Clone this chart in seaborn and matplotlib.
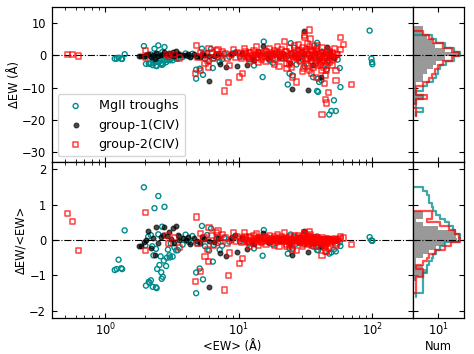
import numpy as np
import matplotlib
matplotlib.use('Agg')
import matplotlib.pyplot as plt
from matplotlib.ticker import NullLocator
import seaborn as sns

# ---- MgII troughs: <EW> (A) and dEW (A)
ew_mg = [1.18, 1.22, 1.26, 1.32, 1.34, 1.40,
         1.95, 2.34, 2.5, 2.67, 2.78, 2.5, 2.0, 2.1, 2.25, 2.15, 2.27, 2.4, 2.63, 2.86,
         3.03, 3.2, 3.4, 2.02, 2.12, 2.2, 2.43, 2.65, 2.7, 2.55, 2.9, 2.3, 2.6, 2.95,
         3.3, 3.05, 3.5, 3.8, 3.6, 2.4, 2.75, 2.45, 3.1, 4.0, 4.2, 2.2,
         4.8, 5.1, 5.4, 4.8, 6.4, 5.3, 4.5, 4.9, 5.8, 6.5, 7.2, 7.5, 6.0, 4.4, 7.8,
         6.2, 6.8, 7.0, 8.5, 9.0, 5.6,
         10.7, 11.8, 13.0, 15.4, 15.1, 23.3, 24.5, 24.0, 25.3, 26.0, 28.0, 25.3, 38.6,
         36.9, 36.0, 39.3, 41.6, 40.0, 38.6, 39.3, 51.6, 53.3, 49.4, 47.6, 57.7, 57.0,
         45.0, 45.5, 12.0, 14.0, 17.0, 19.0, 21.0, 30.0, 33.0, 35.0, 42.0, 44.0, 48.0,
         55.0, 18.0, 27.0, 31.0, 20.0, 10.2, 16.0, 22.5, 29.0, 37.0, 46.5,
         95.5, 98.5, 99.5, 100.0]
dew_mg = [-1.0, -1.0, -0.7, -1.05, -1.1, 0.38,
          2.9, 2.1, 3.1, 1.0, 2.6, 0.4, -0.3, 0.2, -0.4, -2.6, -3.0, -3.2, -2.4, -2.1,
          -1.3, -1.5, -1.0, -2.6, -2.5, -2.5, -3.3, -2.9, -2.8, -1.8, -1.45, -1.0, -1.2, -0.8,
          -0.7, -1.5, -1.0, -0.5, 0.3, -0.6, -1.6, -2.0, -0.3, 0.6, -0.2, 0.3,
          -7.2, -4.1, -6.0, -4.4, -3.9, 2.1, 0.5, -0.5, 0.8, -0.9, -2.0, -1.2, -1.8, -0.3, 0.5,
          2.0, 0.3, -0.6, -0.4, 0.6, -1.0,
          0.2, -0.7, -3.1, 4.3, -6.7, -9.0, 3.8, -5.6, -6.2, 2.4, 1.5, 0.5, 3.9,
          3.1, -6.7, -7.2, -7.7, -8.2, -11.0, -11.3, -13.9, -17.2, -17.2, -18.3, -9.8, -3.9,
          -2.6, -4.3, -1.2, 0.8, -1.5, 0.9, -0.8, -1.2, 0.6, -1.8, 1.2, -0.9, 0.4,
          -1.3, -2.3, -2.8, -3.3, 0.2, -0.4, 0.3, -0.9, 0.7, -0.5, -1.6,
          7.7, -1.0, -2.1, -2.7]

# ---- group-1 (CIV)
ew_g1 = [1.79, 1.86, 1.95, 2.03, 2.08, 2.41, 2.38, 2.78, 3.03, 3.21, 3.4, 3.5, 4.04, 4.28,
         5.09, 5.98, 7.2, 8.06, 9.3, 2.6, 2.9, 3.8, 4.6, 5.5, 6.5, 9.7, 11.6, 8.8, 2.2, 3.1,
         2.3, 2.5, 2.7, 3.3, 3.6, 4.2, 4.9, 5.3, 6.0, 7.0,
         15.3, 30.6, 45.6, 33.0, 25.0, 48.5, 41.6, 10.5, 12.5, 14.0, 16.5, 18.0, 20.0, 22.0,
         26.0, 28.0, 31.0, 34.0, 37.0, 40.0, 43.0, 47.0, 13.0, 24.0, 36.0, 52.0]
dew_g1 = [-0.3, -0.3, -0.1, 0.0, 0.5, 0.9, -1.0, 1.0, 0.7, 1.1, 1.3, 0.5, 0.0, -0.5,
          -0.5, -7.9, -2.6, -3.6, 1.2, 0.2, 0.3, 0.2, 0.3, 0.2, -0.3, -3.4, -3.1, 0.6, -0.5, 0.1,
          0.1, -0.2, 0.4, -0.3, 0.0, 0.4, -0.2, 0.5, -0.1, 0.3,
          2.9, 7.7, 2.6, -10.8, -10.3, 1.0, -6.7, 0.8, -0.5, 0.4, -0.8, 0.3, -0.5, 0.6,
          0.2, -0.8, 0.5, -0.4, 0.9, -1.2, 0.3, -0.6, -1.5, -2.2, -2.9, -0.8]

# ---- group-2 (CIV)
ew_g2 = [0.52, 0.57, 0.63,
         2.0, 2.0, 3.0, 3.6, 2.9, 3.3,
         4.8, 4.75, 5.2, 5.6, 5.8, 5.9, 5.2, 6.0, 4.95, 8.4, 7.8, 8.5, 6.3, 6.8, 7.0, 7.3,
         7.6, 8.0, 8.2, 8.8, 9.2, 9.5, 9.8, 6.5, 7.0, 5.5,
         10.1, 10.7, 22.0, 34.0, 31.0, 31.0, 57.5, 60.5, 57.7, 34.5,
         22.7, 24.0, 25.3, 26.9, 25.0,
         30.4, 32.0, 34.0, 34.9, 37.6, 40.1, 41.6, 42.6, 45.0, 45.5, 46.5, 44.5, 43.9, 47.0,
         44.5, 45.5, 42.0, 53.4, 53.4, 69.5, 54.8,
         29.0, 30.0, 32.0, 34.0, 36.0, 38.0, 28.0,
         10.3, 10.8, 11.2, 11.5, 11.9, 12.3, 12.6, 13.0, 13.3, 13.7, 14.1, 14.5, 14.9, 15.3,
         15.7, 16.1, 16.6, 17.0, 17.5, 18.0, 18.5, 19.0, 19.6, 20.2, 20.8, 21.4, 22.0, 22.6,
         23.3, 24.0, 24.7, 25.5, 26.3, 27.1, 27.9, 28.7, 29.6, 30.5, 31.4, 32.4, 33.4, 34.4,
         35.4, 36.5, 37.6, 38.7, 39.9, 41.1, 42.3, 43.6, 44.9, 46.3, 47.7, 49.1, 50.6, 52.0,
         12.0, 14.0, 16.0, 18.5, 20.0, 23.0, 27.0, 29.0, 33.0, 36.0, 39.0, 41.0, 43.0, 48.0,
         50.0, 35.0, 38.0, 30.0,
         11.0, 13.5, 17.0, 19.5, 21.0, 24.0, 26.0, 32.5, 39.0, 42.0, 46.0, 52.0,
         10.5, 11.0, 11.7, 12.1, 12.9, 13.6, 14.3, 15.0, 15.9, 16.8, 17.8, 18.8, 19.9, 21.0,
         22.3, 23.6, 25.0, 26.6, 28.2, 30.0, 31.8, 33.7, 35.7, 37.9, 40.2, 42.6, 45.2, 47.9,
         50.8, 53.9]
dew_g2 = [0.39, 0.30, -0.18,
          1.55, -0.57, -0.3, -0.8, 0.4, 0.2,
          3.1, -5.6, -4.6, -2.6, -1.5, -3.6, 1.0, 2.1, -0.5, -8.4, -11.0, -3.1, 0.8, 1.5, 0.4, -0.3,
          1.2, 0.6, -0.8, 0.2, 1.8, -0.5, 0.9, -1.0, 1.9, 0.3,
          -6.7, -5.6, 4.4, 7.9, 6.2, 5.5, 5.5, 3.4, 1.8, 5.1,
          -2.6, -2.8, -6.7, -8.2, -3.6,
          -4.1, -2.6, -4.6, -1.0, -2.6, -2.1, -4.6, -1.5, -3.1, -4.6, -1.0, -6.2, -8.7, -11.6,
          -13.7, -14.7, -18.3, -4.6, -7.7, -9.0, 0.3,
          1.5, 2.5, 1.8, 2.8, 1.2, 2.2, 3.5,
          0.5, -0.4, 1.2, 0.2, -0.9, 0.8, -0.2, 1.5, 0.4, -0.6, 1.0, 0.1, -1.2, 0.6,
          -0.3, 1.3, 0.3, -0.8, 0.9, -0.1, 1.6, 0.4, -0.5, 1.0, -1.0, 0.2, -0.4, 1.1,
          0.0, -1.3, 0.7, -0.2, 1.0, -0.6, 0.3, -1.6, 0.8, -0.3, 1.2, -0.9, 0.4, -0.2,
          1.5, -0.7, 0.6, -1.4, 0.2, -0.5, 1.0, -0.2, 0.5, -1.8, 0.3, -0.6, 0.8, -0.4,
          -2.0, -2.3, -1.9, -2.8, -3.5, -4.0, -1.0, -1.9, -3.3, -3.8, -3.0, -2.8, -3.6, -2.2,
          -3.0, -5.5, -6.8, -5.0,
          2.2, 2.6, 2.0, 2.8, 1.9, 2.3, 3.0, 3.6, 3.0, 2.5, 1.8, 2.2,
          -0.8, 0.6, -0.3, 1.0, -1.1, 0.3, 0.8, -0.7, 1.1, -0.2, 0.5, -1.3, 0.7, 0.0,
          1.3, -0.8, 0.3, -0.4, 1.6, 0.9, -1.1, 1.9, 0.1, 1.3, -0.9, 0.6, -0.7, 1.1,
          -1.2, 0.4]

# ---- side histograms (counts per bin)
top_cnt_mg = [1, 2, 1, 1, 2, 1, 2, 3, 6, 8, 10, 12, 22, 50, 95, 50, 20, 8, 5, 0, 0]
top_cnt_g1 = [0, 0, 0, 1, 2, 1, 1, 1, 2, 2, 3, 6, 8, 20, 80, 20, 7, 5, 3, 2, 2]
top_cnt_g2 = [1, 1, 0, 1, 3, 1, 1, 2, 4, 5, 7, 10, 16, 40, 85, 42, 16, 6, 4, 2, 0]

bot_cnt_mg = [1, 2, 2, 2, 2, 2, 3, 3, 4, 5, 6, 8, 12, 20, 85, 90, 55, 45, 30, 20, 12, 8,
              6, 5, 4, 4, 3, 2, 0, 0, 0]
bot_cnt_g1 = [0, 0, 0, 0, 1, 2, 3, 2, 1, 1, 2, 4, 8, 20, 65, 60, 50, 10, 2, 1, 2, 2,
              0, 0, 0, 0, 0, 0, 0, 0, 0]
bot_cnt_g2 = [0, 1, 1, 1, 1, 2, 2, 1, 2, 3, 4, 7, 20, 38, 90, 80, 55, 30, 12, 3, 5, 5,
              0, 0, 0, 0, 0, 0, 0, 0, 0]

top_edges = np.linspace(-18.9, 9.03, 22)
bot_edges = np.linspace(-1.595, 1.815, 32)

rat_mg = np.array(dew_mg) / np.array(ew_mg)
rat_g1 = np.array(dew_g1) / np.array(ew_g1)
rat_g2 = np.array(dew_g2) / np.array(ew_g2)

sns.set_style('ticks')
plt.rcParams['font.family'] = ['DejaVu Sans']
plt.rcParams.update({
    'font.size': 8.3,
    'xtick.direction': 'in', 'ytick.direction': 'in',
    'xtick.top': True, 'ytick.right': True,
    'xtick.major.size': 3.5, 'ytick.major.size': 3.5,
    'xtick.minor.size': 2.0, 'ytick.minor.size': 2.0,
    'xtick.major.pad': 2.8, 'ytick.major.pad': 4.2,
    'xtick.color': 'black', 'ytick.color': 'black',
    'axes.edgecolor': 'black', 'axes.linewidth': 0.9,
    'axes.labelcolor': 'black', 'text.color': 'black',
})

fig = plt.figure(figsize=(4.74, 3.54), dpi=100)
ax1 = fig.add_axes([0.1097, 0.5424, 0.7606, 0.4378])
ax2 = fig.add_axes([0.1097, 0.1017, 0.7606, 0.4407], sharex=ax1)
axh1 = fig.add_axes([0.8703, 0.5424, 0.1092, 0.4378], sharey=ax1)
axh2 = fig.add_axes([0.8703, 0.1017, 0.1092, 0.4407], sharey=ax2)

mg_kw = dict(marker='o', facecolor='none', edgecolor='darkcyan', s=13, linewidth=1.0)
g1_kw = dict(marker='o', color='k', edgecolor='k', alpha=0.7, s=12, linewidth=0.8)
g2_kw = dict(marker='s', facecolor='none', edgecolor='red', alpha=0.75, s=14, linewidth=1.1)

for ax in (ax1, ax2):
    ax.axhline(0, color='k', ls='-.', lw=0.8, zorder=1)

sns.scatterplot(x=ew_mg, y=dew_mg, ax=ax1, label='MgII troughs', zorder=2, **mg_kw)
sns.scatterplot(x=ew_g1, y=dew_g1, ax=ax1, label='group-1(CIV)', zorder=3, **g1_kw)
sns.scatterplot(x=ew_g2, y=dew_g2, ax=ax1, label='group-2(CIV)', zorder=4, **g2_kw)

sns.scatterplot(x=ew_mg, y=rat_mg, ax=ax2, zorder=2, **mg_kw)
sns.scatterplot(x=ew_g1, y=rat_g1, ax=ax2, zorder=3, **g1_kw)
sns.scatterplot(x=ew_g2, y=rat_g2, ax=ax2, zorder=4, **g2_kw)

ax1.legend(loc='lower left', fontsize=9.2, edgecolor='0.8', borderaxespad=0.45)

ax1.set_xscale('log')
ax1.set_xlim(0.4, 200)
ax1.set_yticks([-30, -20, -10, 0, 10])
ax2.set_yticks([-2, -1, 0, 1, 2])
ax1.tick_params(labelbottom=False)
ax1.set_ylabel('ΔEW (Å)', labelpad=1)
ax2.set_ylabel('ΔEW/<EW>', labelpad=1)
ax2.set_xlabel('<EW> (Å)', labelpad=1)
ax1.set_xlabel('')


def side_hist(ax, edges, cnt_mg, cnt_g1, cnt_g2):
    mids = 0.5 * (edges[:-1] + edges[1:])
    bins = list(edges)
    sns.histplot(y=mids, weights=cnt_g1, bins=bins, element='step', fill=True,
                 color='gray', alpha=0.8, linewidth=0, ax=ax)
    sns.histplot(y=mids, weights=cnt_mg, bins=bins, element='step', fill=False,
                 color='darkcyan', alpha=0.75, linewidth=1.6, ax=ax)
    sns.histplot(y=mids, weights=cnt_g2, bins=bins, element='step', fill=False,
                 color='red', alpha=0.7, linewidth=1.6, ax=ax)
    ax.axhline(0, color='k', ls='-.', lw=0.8, zorder=5)
    ax.set_xscale('log')
    ax.set_xlim(0.7, 143)
    ax.set_xticks([10])
    ax.xaxis.set_minor_locator(NullLocator())
    ax.tick_params(labelleft=False)
    ax.set_ylabel('')


side_hist(axh1, top_edges, top_cnt_mg, top_cnt_g1, top_cnt_g2)
side_hist(axh2, bot_edges, bot_cnt_mg, bot_cnt_g1, bot_cnt_g2)
axh1.tick_params(labelbottom=False)
axh1.set_xlabel('')
axh2.set_xlabel('Num', labelpad=1)

ax1.set_ylim(-33, 15)
ax2.set_ylim(-2.2, 2.2)
ax1.yaxis.set_minor_locator(NullLocator())
ax2.yaxis.set_minor_locator(NullLocator())

fig.savefig('out.png', dpi=100)
